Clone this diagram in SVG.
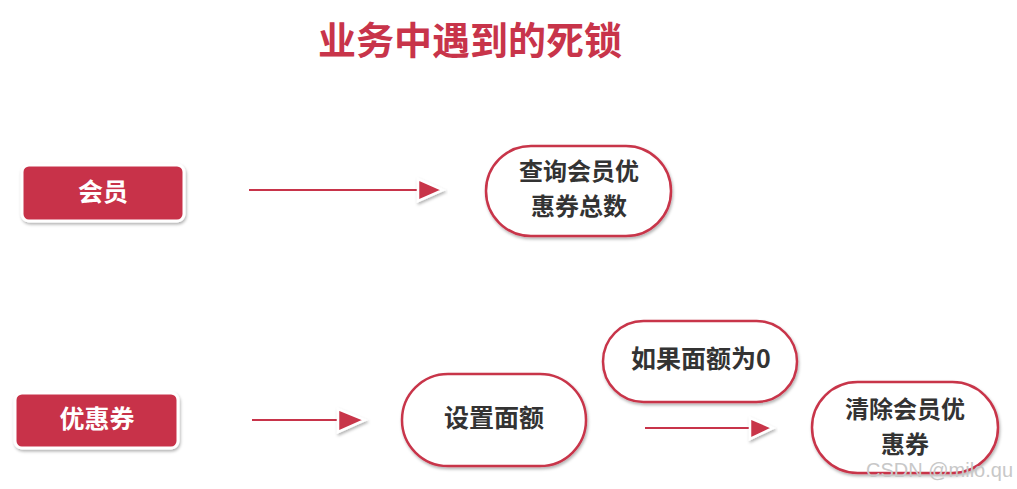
<svg xmlns="http://www.w3.org/2000/svg" width="1017" height="489" viewBox="0 0 1017 489">
<style>
.title{font-family:"Noto Sans CJK SC","Liberation Sans",sans-serif;font-weight:700;font-size:38px;fill:#c8344a}
.box{fill:#c8334a;stroke:#fff;stroke-width:3;filter:url(#sh)}
.boxt{font-family:"Noto Sans CJK SC",sans-serif;font-weight:700;font-size:25px;fill:#fff;text-anchor:middle}
.pill{fill:#fff;stroke:#c8344a;stroke-width:2.5;filter:url(#sh)}
.pillt{font-family:"Noto Sans CJK SC",sans-serif;font-weight:700;font-size:25px;fill:#333;text-anchor:middle}
.two{font-size:24px}
.ln{stroke:#c8344a;stroke-width:2}
.lnw{stroke:#fff;stroke-width:6;filter:url(#sh)}
.hd{fill:#c8344a;stroke:#fff;stroke-width:2.5;stroke-linejoin:miter;filter:url(#sh)}
.wm{font-family:"Liberation Sans",sans-serif;font-size:20px;fill:#c8c8c8}
</style>
<defs>
<filter id="sh" x="-20%" y="-30%" width="140%" height="160%">
<feDropShadow dx="1" dy="2" stdDeviation="1.5" flood-color="#000" flood-opacity="0.3"/>
</filter>
</defs>
<rect width="1017" height="489" fill="#fff"/>
<text class="title" x="470" y="54" text-anchor="middle">业务中遇到的死锁</text>
<g id="connectors">
<g id="a1">
<line class="lnw" x1="249" y1="190" x2="420" y2="190"/>
<line class="ln" x1="249" y1="190" x2="422" y2="190"/>
<polygon class="hd" points="418,179 443,190 418,201"/>
</g>
<g id="a2">
<line class="lnw" x1="252" y1="420" x2="340" y2="420"/>
<line class="ln" x1="252" y1="420" x2="342" y2="420"/>
<polygon class="hd" points="338,409 365,420 338,432"/>
</g>
<g id="a3">
<line class="lnw" x1="645" y1="428" x2="750" y2="428"/>
<line class="ln" x1="645" y1="428" x2="752" y2="428"/>
<polygon class="hd" points="750,418 773,428 750,439"/>
</g>
</g>
<g id="n-member">
<rect class="box" x="22" y="165" width="162" height="56" rx="7"/>
<text class="boxt" x="103" y="201">会员</text>
</g>
<g id="n-query">
<rect class="pill" x="486" y="146" width="185" height="90" rx="45"/>
<text class="pillt two" x="579" y="180">查询会员优</text>
<text class="pillt two" x="579" y="215">惠券总数</text>
</g>
<g id="n-coupon">
<rect class="box" x="15" y="393" width="163" height="55" rx="7"/>
<text class="boxt" x="97" y="428">优惠券</text>
</g>
<g id="n-set">
<rect class="pill" x="402" y="374" width="184" height="92" rx="46"/>
<text class="pillt" x="494" y="427">设置面额</text>
</g>
<g id="n-if">
<rect class="pill" x="603" y="321" width="194" height="81" rx="40.5"/>
<text class="pillt" x="701" y="368">如果面额为0</text>
</g>
<g id="n-clear">
<rect class="pill" x="812" y="382" width="186" height="91" rx="45.5"/>
<text class="pillt two" x="905" y="418">清除会员优</text>
<text class="pillt two" x="905" y="453">惠券</text>
</g>
<text class="wm" x="866" y="477">CSDN @milo.qu</text>
</svg>
